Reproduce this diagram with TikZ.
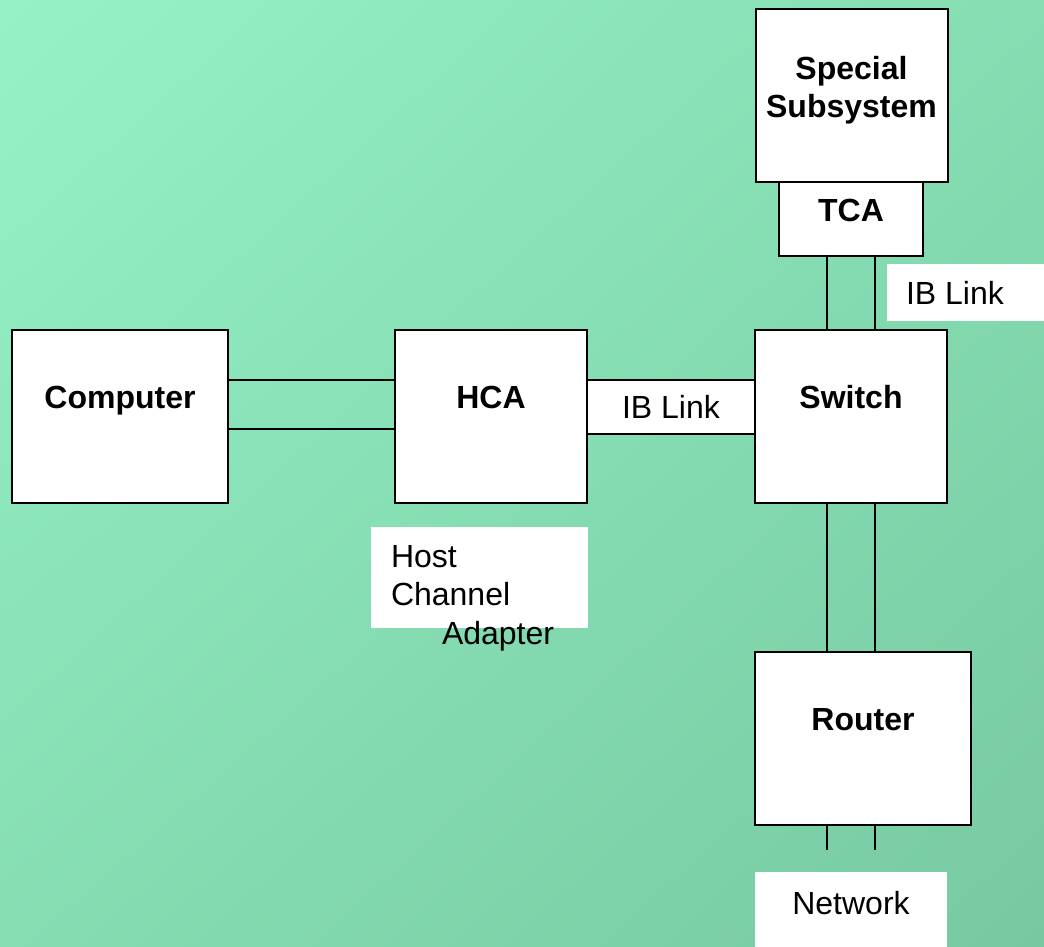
\documentclass[tikz,border=0pt]{standalone}
\usepackage{fontspec}
\setmainfont{Liberation Sans}
\usetikzlibrary{positioning, calc, shadings}

\definecolor{bgTL}{HTML}{95F2C7}
\definecolor{bgMid}{HTML}{86DDB2}
\definecolor{bgBR}{HTML}{77C9A1}

\begin{document}
\begin{tikzpicture}[
    x=0.75pt, y=-0.75pt,
    line width=1.5pt,
    unit/.style={
      draw, rectangle, fill=white, inner sep=0pt,
      font=\fontsize{24}{28.5}\selectfont\bfseries, align=center,
      minimum width=144pt, minimum height=129.75pt,
      text height=18pt, text depth=30pt
    },
    tag/.style={
      fill=white, inner sep=0pt,
      font=\fontsize{24}{29}\selectfont
    }
]
    % Background
    \shade[upper left=bgTL, lower right=bgBR, upper right=bgMid, lower left=bgMid]
      (0,0) rectangle (1044,946);
    \useasboundingbox (0,0) rectangle (1044,946);

    % Units
    \node[unit, minimum width=162pt] (Computer) at (120,416.5) {Computer};
    \node[unit] (HCA) at (491,416.5) {HCA};
    \node[unit] (Switch) at (851,416.5) {Switch};
    \node[unit, minimum width=162pt] (Router) at (863,738.5) {Router};
    \node[unit, text height=32.5pt, text depth=0pt] (Special) at (851.5,95.5) {Special\\Subsystem};
    \node[unit, minimum width=108pt, minimum height=55.5pt, text height=18pt, text depth=15pt]
      (TCA) at (851,219) {TCA};

    % Labels
    \node[tag, draw, minimum width=126pt, minimum height=40.5pt] (LinkA) at (671,407) {IB Link};
    \node[tag, text width=89.25pt, inner xsep=14.25pt, align=flush left,
          minimum height=42.75pt] (LinkB) at (965.5,292.5) {IB Link};
    \node[tag, minimum width=162.75pt, minimum height=75.75pt] (HostBox) at (479.5,577.5) {};
    \node[tag, fill=none, align=flush left, anchor=west] (HostText) at (390,598)
      {Host\\Channel\\\hspace*{38.25pt}Adapter};
    \node[tag, minimum width=144pt, minimum height=56pt, text depth=10pt] (Network) at (851,909.5) {Network};

    % Links
    \draw ([yshift=27.4pt]Computer.east) -- ([yshift=27.4pt]HCA.west);
    \draw ([yshift=-9.4pt]Computer.east) -- ([yshift=-9.4pt]HCA.west);
    \foreach \dx in {-18pt, 18pt} {
      \draw ([xshift=\dx]TCA.south) -- ([xshift=\dx]Switch.north);
      \draw ([xshift=\dx]Switch.south) -- ([xshift=\dx]Switch.south |- Router.north);
      \draw ([xshift=\dx]Switch.south |- Router.south) -- ++(0,24);
    }
\end{tikzpicture}
\end{document}
